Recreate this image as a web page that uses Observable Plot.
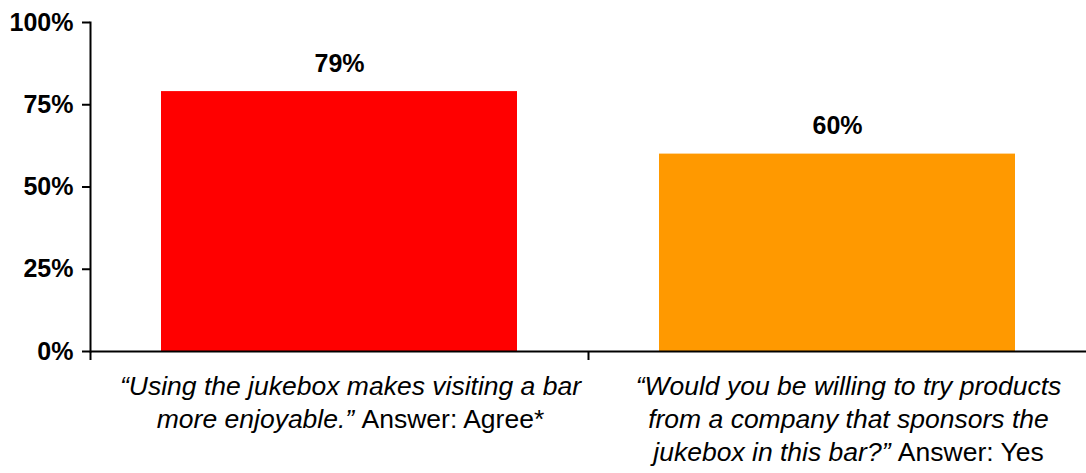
<!DOCTYPE html>
<html>
<head>
<meta charset="utf-8">
<script src="https://cdn.jsdelivr.net/npm/d3@7"></script>
<script src="https://cdn.jsdelivr.net/npm/@observablehq/plot@0.6"></script>
<style>
  html, body { margin: 0; padding: 0; background: #fff; }
  #chart svg { display: block; }
</style>
</head>
<body>
<div id="chart"></div>
<script>
const categories = ["Agree", "Yes"];
const values = [79, 60];
const barColors = ["#FF0000", "#FF9900"];
const quoteLines = [
  ["\u201CUsing the jukebox makes visiting a bar", "more enjoyable.\u201D"],
  ["\u201CWould you be willing to try products", "from a company that sponsors the", "jukebox in this bar?\u201D"]
];
const answers = ["Answer: Agree*", "Answer: Yes"];
const yTicks = [0, 25, 50, 75, 100];

const data = categories.map((c, i) => ({category: c, value: values[i]}));
const labelOf = {};
categories.forEach((c, i) => {
  const lines = quoteLines[i].slice();
  lines[lines.length - 1] = lines[lines.length - 1] + " " + answers[i];
  labelOf[c] = lines.join("\n");
});

const W = 1086, H = 473, ML = 90, MR = 0;
const padInner = 0.285;
const step = (W - ML - MR) / categories.length;

const chart = Plot.plot({
  width: W,
  height: H,
  marginLeft: ML,
  marginRight: MR,
  marginTop: 22,
  marginBottom: 122,
  style: {fontFamily: "'Liberation Sans', Arial, Helvetica, sans-serif", background: "#fff", color: "#000"},
  x: {type: "band", domain: categories, paddingInner: padInner, paddingOuter: padInner / 2, label: null},
  y: {domain: [0, 100], label: null},
  color: {domain: categories, range: barColors},
  marks: [
    Plot.barY(data, {x: "category", y: "value", fill: "category"}),
    Plot.text(data, {x: "category", y: "value", text: d => d.value + "%", dy: -28,
      fontSize: 25, fontWeight: "bold", fill: "#000"}),
    Plot.frame({anchor: "left", stroke: "#000", strokeWidth: 2}),
    Plot.ruleY([0], {stroke: "#000", strokeWidth: 2}),
    Plot.axisY(yTicks, {tickFormat: d => d + "%", tickSize: 8, tickPadding: 9,
      fontSize: 25, fontWeight: "bold", strokeWidth: 2, label: null, fill: "#000", stroke: "#000"}),
    Plot.axisX(categories, {tickSize: 9, tickFormat: () => "", dx: -step / 2, strokeWidth: 2, label: null, stroke: "#000"}),
    Plot.axisX(categories, {tickSize: 0, tickPadding: 20, tickFormat: c => labelOf[c],
      fontSize: 26.5, lineHeight: 1.245, dx: 11, label: null, fill: "#000"})
  ]
});

// style: quoted part italic, answer part normal
const ns = "http://www.w3.org/2000/svg";
Array.from(chart.querySelectorAll("text"))
  .filter(t => /[\u201C\u201D]|Answer:|company/.test(t.textContent))
  .forEach(t => {
    const parts = Array.from(t.querySelectorAll("tspan"));
    const targets = parts.length ? parts : [t];
    targets.forEach(ts => {
      const s = ts.textContent;
      if (!s) return;
      const i = s.indexOf("Answer:");
      ts.textContent = "";
      const a = document.createElementNS(ns, "tspan");
      a.setAttribute("font-style", "italic");
      a.style.fontStyle = "italic";
      a.textContent = i < 0 ? s : s.slice(0, i);
      ts.appendChild(a);
      if (i >= 0) {
        const b = document.createElementNS(ns, "tspan");
        b.setAttribute("font-style", "normal");
        b.style.fontStyle = "normal";
        b.textContent = s.slice(i);
        ts.appendChild(b);
      }
    });
  });

document.getElementById("chart").appendChild(chart);
</script>
</body>
</html>
